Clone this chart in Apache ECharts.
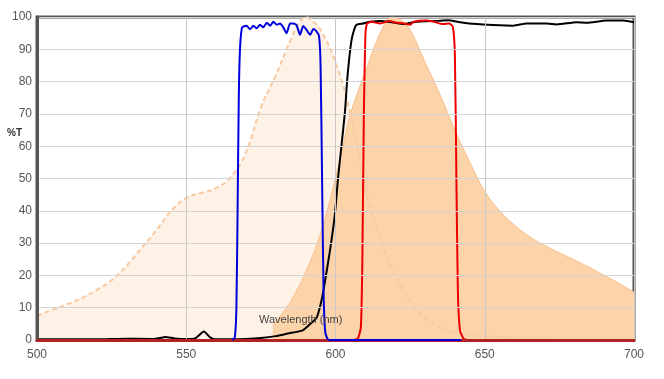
<!DOCTYPE html>
<html>
<head>
<meta charset="utf-8">
<script src="https://cdn.jsdelivr.net/npm/echarts@6/dist/echarts.min.js"></script>
<style>
html,body{margin:0;padding:0;background:#fff;}
#chart{width:664px;height:379px;}
</style>
</head>
<body>
<div id="chart"></div>
<script>
// X-axis ticks and Y-axis ticks
var xTicks = [500, 550, 600, 650, 700];
var yTicks = [0, 10, 20, 30, 40, 50, 60, 70, 80, 90, 100];

// Excitation spectrum (light, dashed)
var exWl = [500,505,510,515,520,525,530,535,540,545,550,555,560,565,570,575,580,585,588,590,592,595,600,605,610,615,620,625,630,635,640,645,650,660,670,675];
var exT  = [7.5,9.3,11,13,15.5,18.5,23,28.5,34,40,44,45.5,47,50.5,58,72,82,93,98.5,100,99,96,86,70,47,31,20,12,7,4,2.3,1.5,1.1,0.8,0.5,0.4];

// Emission spectrum (darker fill)
var emWl = [579,582,585,590,595,600,603,605,610,615,619,622,625,630,635,640,645,650,655,660,665,670,675,680,685,690,695,700];
var emT  = [4.6,8,12,21,33,50,62,70,83,95,100,99,96,86,76,65,55,46,40,35.5,32,29.3,27,24.8,22.5,20,17.5,14.8];

// Excitation filter (blue)
var blueWl = [565.5,566.3,566.8,567.2,567.6,568,568.6,569.1,570.2,571.4,572.5,573.6,574.7,575.8,577,578.1,579.2,580.3,581.4,582.5,583.6,584.8,585.9,587,588.1,589.2,590.3,591.5,592.6,593.7,594.5,595,595.5,596,596.5,597.2,598,642];
var blueT  = [0,1,10,40,75,90,96.5,97,97.3,96.2,97.3,96.5,97.6,96.8,98.2,97.3,98.5,97.6,98,96.8,95,98,98,97.4,94.5,97.2,96,94.5,96.3,95.5,94,85,50,15,3,0.5,0,0];

// Dichroic (black)
var blackWl = [500,520,530,538,541,543,546,550,553,555.9,558,559.5,565,570,575,580,584,589,591,593.7,595,596,598.2,599.8,600.9,602.1,603.2,604,605.4,606.9,609.3,611.6,615,619.4,622.7,627.2,633.9,637.8,641.7,647.3,652.8,659.6,664,670.8,674.1,680.8,684.1,690.8,696.4,700];
var blackT  = [0.2,0.2,0.4,0.3,0.6,0.9,0.5,0.3,0.5,2.6,0.8,0.2,0.2,0.3,0.6,1.2,2,3,4.5,7,11,15.5,28,39,50.6,61,71,81.5,93,97.5,98,98.5,98.8,98.3,97.8,98.5,98.8,99,98.4,97.8,97.5,97.3,98,98,97.7,98.4,98.2,98.9,98.9,98.4];

// Emission filter (red)
var redWl = [500,606,607.5,608.5,609,609.5,610,610.5,612,615,618,620,623,625,626,630.5,633,636,638,639.3,640,640.5,641,641.7,643,645,700];
var redT  = [0,0,0.5,4,25,70,94,97.8,98.5,98,98.8,98.3,98,97.6,98.5,98.9,98.5,97.8,98,97,88,50,15,3,0.3,0,0];

function pairs(xs, ys){ return xs.map(function(x,i){ return [x, ys[i]]; }); }

var chart = echarts.init(document.getElementById('chart'), null, {renderer:'canvas'});
var font = 'Arial, "Liberation Sans", sans-serif';
chart.setOption({
  animation:false,
  backgroundColor:'#fff',
  grid:{left:37, right:30, top:17, bottom:39, show:true, borderColor:'#555', borderWidth:3, backgroundColor:'transparent'},
  xAxis:{
    type:'value', min:xTicks[0], max:xTicks[xTicks.length-1], interval:50, z:3,
    axisLine:{show:true, onZero:false, lineStyle:{color:'#b22222', width:3}},
    axisTick:{show:false},
    axisLabel:{color:'#555', fontSize:12, fontFamily:font, margin:9},
    splitLine:{show:true, lineStyle:{color:'#c8c8c8', width:1}}
  },
  yAxis:{
    type:'value', min:yTicks[0], max:yTicks[yTicks.length-1], interval:10, z:3,
    axisLine:{show:true, lineStyle:{color:'#555', width:3}},
    axisTick:{show:false},
    axisLabel:{color:'#555', fontSize:12, fontFamily:font, margin:5},
    splitLine:{show:true, lineStyle:{color:'#d4d4d4', width:1}}
  },
  graphic:[
    {type:'text', left:7, top:128, z:10, style:{text:'%T', fill:'#333', font:'bold 10px '+font}},
    {type:'text', left:259, top:314, z:10, style:{text:'Wavelength (nm)', fill:'#444', font:'11px '+font}}
  ],
  series:[
    {name:'ex-area', type:'line', data:pairs(exWl, exT), smooth:0.4, symbol:'none', z:1,
     lineStyle:{width:0}, areaStyle:{color:'#fef2e7', opacity:1}},
    {name:'em', type:'line', data:pairs(emWl, emT), smooth:0.4, symbol:'none', z:1,
     lineStyle:{color:'#f7bd88', width:1}, areaStyle:{color:'#fdd3aa', opacity:1}},
    {name:'ex-line', type:'line', data:pairs(exWl, exT), smooth:0.4, symbol:'none', z:1,
     lineStyle:{color:'#f9c9a0', width:2, type:[5,3]}},
    {name:'black', type:'line', data:pairs(blackWl, blackT), smooth:0.2, symbol:'none', z:2,
     lineStyle:{color:'#000', width:2}},
    {name:'red', type:'line', data:pairs(redWl, redT), smooth:0.2, symbol:'none', z:2,
     lineStyle:{color:'#ee0000', width:2}},
    {name:'blue', type:'line', data:pairs(blueWl, blueT), smooth:0.2, symbol:'none', z:4,
     lineStyle:{color:'#0000dd', width:2}}
  ]
});
</script>
</body>
</html>
